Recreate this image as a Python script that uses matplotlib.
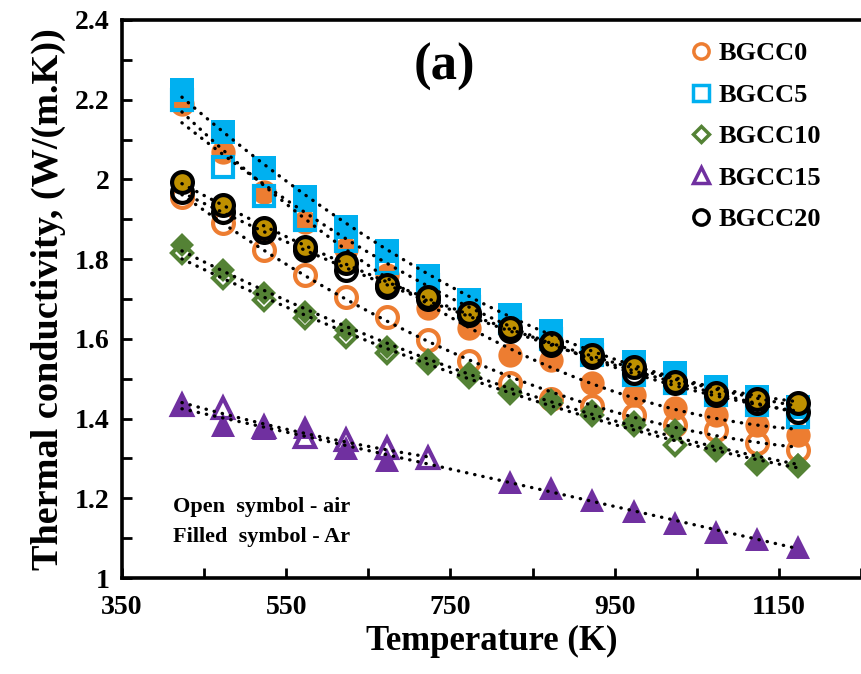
import numpy as np
import matplotlib
matplotlib.use("Agg")
import matplotlib.pyplot as plt
from matplotlib.lines import Line2D

plt.rcParams['font.family'] = ['Liberation Serif', 'DejaVu Serif']
plt.rcParams['font.weight'] = 'bold'

# Temperatures (K)
temps = [423, 473, 523, 573, 623, 673, 723, 773, 823, 873, 923, 973, 1023, 1073, 1123, 1173]
temps_15_air = [423, 473, 523, 573, 623, 673, 723]
temps_15_ar = [423, 473, 523, 573, 623, 673, 823, 873, 923, 973, 1023, 1073, 1123, 1173]

# Thermal conductivity, open symbols = air, filled = Ar
bgcc0_air = [1.956, 1.89, 1.823, 1.76, 1.705, 1.655, 1.597, 1.545, 1.49, 1.45, 1.432, 1.409, 1.384, 1.371, 1.339, 1.321]
bgcc0_ar = [2.19, 2.069, 1.968, 1.893, 1.825, 1.76, 1.677, 1.627, 1.56, 1.547, 1.489, 1.459, 1.426, 1.409, 1.384, 1.359]
bgcc5_air = [2.20, 2.031, 1.958, 1.898, 1.845, 1.79, 1.735, 1.68, 1.64, 1.60, 1.56, 1.509, 1.489, 1.46, 1.435, 1.404]
bgcc5_ar = [2.224, 2.119, 2.029, 1.956, 1.88, 1.82, 1.758, 1.697, 1.66, 1.62, 1.572, 1.542, 1.514, 1.48, 1.454, 1.429]
bgcc10_air = [1.815, 1.753, 1.697, 1.652, 1.605, 1.564, 1.54, 1.505, 1.465, 1.44, 1.41, 1.385, 1.334, 1.32, 1.285, 1.28]
bgcc10_ar = [1.835, 1.773, 1.715, 1.667, 1.622, 1.58, 1.547, 1.514, 1.472, 1.447, 1.418, 1.391, 1.371, 1.326, 1.289, 1.283]
bgcc15_air = [1.435, 1.426, 1.38, 1.354, 1.346, 1.326, 1.301]
bgcc15_ar = [1.434, 1.384, 1.376, 1.379, 1.326, 1.296, 1.241, 1.226, 1.196, 1.168, 1.138, 1.115, 1.098, 1.078]
bgcc20_air = [1.968, 1.918, 1.868, 1.823, 1.773, 1.73, 1.70, 1.66, 1.62, 1.585, 1.555, 1.515, 1.49, 1.46, 1.44, 1.416]
bgcc20_ar = [1.993, 1.936, 1.878, 1.83, 1.79, 1.735, 1.705, 1.665, 1.627, 1.59, 1.56, 1.53, 1.492, 1.464, 1.449, 1.439]

labels = ['BGCC0', 'BGCC5', 'BGCC10', 'BGCC15', 'BGCC20']
colors = ['#ED7D31', '#00B0F0', '#548235', '#7030A0', '#000000']
markers = ['o', 's', 'D', '^', 'o']

fig = plt.figure(figsize=(8.61, 6.74), dpi=100)
ax = fig.add_axes([122 / 861, 1 - 578 / 674, 1 - 122 / 861, (578 - 20) / 674])

series = [
    (temps, bgcc0_air, temps, bgcc0_ar, 0, 15, 17.5),
    (temps, bgcc5_air, temps, bgcc5_ar, 1, 15, 17.5),
    (temps, bgcc10_air, temps, bgcc10_ar, 2, 10.5, 12.5),
    (temps_15_air, bgcc15_air, temps_15_ar, bgcc15_ar, 3, 14.5, 17),
    (temps, bgcc20_air, temps, bgcc20_ar, 4, 15, 15),
]

for t_air, k_air, t_ar, k_ar, i, ms_open, ms_fill in series:
    c = colors[i]
    ax.plot(t_air, k_air, linestyle='none', marker=markers[i], ms=ms_open,
            mfc='none', mec=c, mew=3, zorder=2 + i)
    if i == 4:
        ax.plot(t_ar, k_ar, linestyle='none', marker='o', ms=ms_fill,
                mfc='#BF9000', mec='black', mew=3, zorder=2 + i)
    else:
        ax.plot(t_ar, k_ar, linestyle='none', marker=markers[i], ms=ms_fill,
                mfc=c, mec=c, mew=0, zorder=2 + i)

# dotted 2nd order trend lines
for t_air, k_air, t_ar, k_ar, i, ms_open, ms_fill in series:
    for tt, kk in [(t_air, k_air), (t_ar, k_ar)]:
        coef = np.polyfit(tt, kk, 2)
        xs = np.linspace(min(tt), max(tt), 200)
        ax.plot(xs, np.polyval(coef, xs), color='black', lw=2.4,
                linestyle=(0, (0.1, 2.4)), dash_capstyle='round', zorder=10)

ax.set_xlim(350, 350 + (861 - 122) / 0.825)
ax.set_ylim(1, 2.4)
ax.set_xticks([350, 450, 550, 650, 750, 850, 950, 1050, 1150, 1250])
ax.set_xticklabels(['350', '', '550', '', '750', '', '950', '', '1150', ''])
ax.set_yticks(np.arange(1, 2.41, 0.1))
ax.set_yticklabels(['1', '', '1.2', '', '1.4', '', '1.6', '', '1.8', '', '2', '', '2.2', '', '2.4'])
ax.tick_params(direction='in', length=7, width=2, labelsize=20)
ax.tick_params(axis='y', pad=9)
ax.tick_params(axis='x', pad=12)
for sp in ['left', 'bottom', 'top']:
    ax.spines[sp].set_linewidth(2.6)
ax.spines['right'].set_visible(False)

ax.set_xlabel('Temperature (K)', fontsize=25, fontweight='bold', labelpad=4)
ax.set_ylabel('Thermal conductivity, (W/(m.K))', fontsize=27.5, fontweight='bold', labelpad=6)

ax.text(743, 2.282, '(a)', fontsize=38, fontweight='bold', ha='center', va='center')
ax.text(412, 1.178, 'Open  symbol - air', fontsize=16, fontweight='bold', ha='left', va='center')
ax.text(412, 1.103, 'Filled  symbol - Ar', fontsize=16, fontweight='bold', ha='left', va='center')

handles = [Line2D([], [], linestyle='none', marker=markers[i], ms=(8 if i == 2 else 11),
                  mfc='none', mec=colors[i], mew=2.5) for i in range(5)]
ax.legend(handles, labels, loc='upper left', bbox_to_anchor=((690 - 122) / (861 - 122), 1 - 22 / 558),
          frameon=False, fontsize=19, handlelength=0.8, handletextpad=0.3,
          labelspacing=0.68, borderpad=0, borderaxespad=0)

fig.savefig('out.png', dpi=100)
